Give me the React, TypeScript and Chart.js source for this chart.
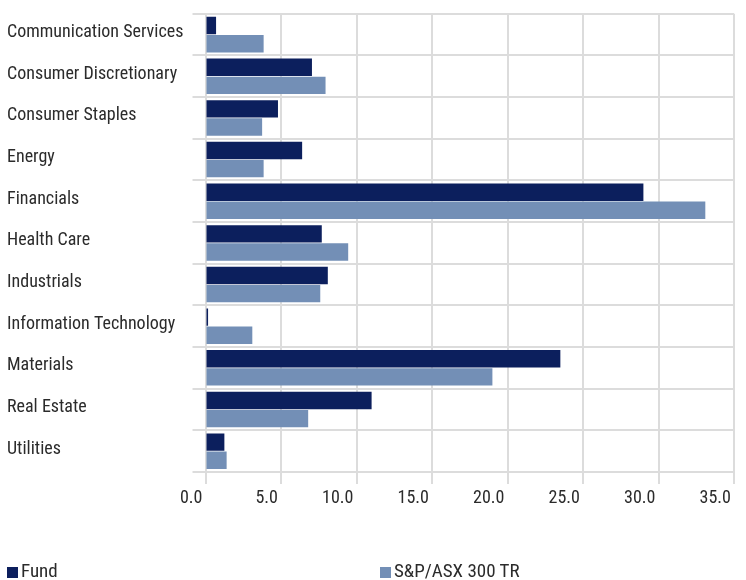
import React, { useEffect, useRef } from "react";
import { Chart, registerables } from "chart.js";

Chart.register(...registerables);

const categories = [
  "Communication Services",
  "Consumer Discretionary",
  "Consumer Staples",
  "Energy",
  "Financials",
  "Health Care",
  "Industrials",
  "Information Technology",
  "Materials",
  "Real Estate",
  "Utilities",
];
const fundValues = [0.7, 7.05, 4.8, 6.4, 29.0, 7.7, 8.1, 0.17, 23.5, 11.0, 1.25];
const indexValues = [3.85, 7.95, 3.75, 3.85, 33.1, 9.45, 7.6, 3.1, 19.0, 6.8, 1.4];
const seriesNames = ["Fund", "S&P/ASX 300 TR"];
const xTicks = [0, 5, 10, 15, 20, 25, 30, 35];

const FONT = "'Roboto Condensed', 'Liberation Sans', sans-serif";
const FUND_COLOR = "#0c1f5d";
const INDEX_COLOR = "#738fb6";
const GRID = "#dcdcdc";
const TEXT = "#2b2b2b";

export default function App() {
  const ref = useRef<HTMLCanvasElement | null>(null);

  useEffect(() => {
    if (!ref.current) return;
    const chart = new Chart(ref.current, {
      type: "bar",
      data: {
        labels: categories,
        datasets: [
          {
            label: seriesNames[0],
            data: fundValues,
            backgroundColor: FUND_COLOR,
            barPercentage: 0.96,
            categoryPercentage: 0.87,
          },
          {
            label: seriesNames[1],
            data: indexValues,
            backgroundColor: INDEX_COLOR,
            barPercentage: 0.96,
            categoryPercentage: 0.87,
          },
        ],
      },
      options: {
        indexAxis: "y",
        animation: false,
        responsive: false,
        maintainAspectRatio: false,
        layout: { padding: { left: 7, right: 12, top: 4, bottom: 58 } },
        plugins: {
          legend: { display: false },
          tooltip: { enabled: false },
        },
        scales: {
          x: {
            min: 0,
            max: 35,
            afterBuildTicks: (scale: any) => {
              scale.ticks = xTicks.map((v) => ({ value: v }));
            },
            afterFit: (scale: any) => {
              scale.height = 50;
            },
            grid: { color: GRID, lineWidth: 2, tickLength: 12, drawTicks: true },
            border: { color: GRID, width: 2 },
            ticks: {
              color: TEXT,
              font: { family: FONT, size: 18 },
              align: "end",
              labelOffset: -3,
              padding: 4,
              maxRotation: 0,
              callback: (v: any) => Number(v).toFixed(1),
            },
          },
          y: {
            afterFit: (scale: any) => {
              scale.width = 198.5;
            },
            grid: { color: GRID, lineWidth: 2, tickLength: 13, offset: true },
            border: { color: GRID, width: 2 },
            ticks: {
              color: TEXT,
              font: { family: FONT, size: 18 },
              crossAlign: "far",
              autoSkip: false,
              labelOffset: -2,
            },
          },
        },
      },
    });
    return () => chart.destroy();
  }, []);

  const legendItem = (name: string, color: string) => (
    <div style={{ display: "flex", alignItems: "center", paddingLeft: 7 }}>
      <span
        style={{
          display: "inline-block",
          width: 11,
          height: 11,
          background: color,
          marginRight: 3,
          marginTop: 2,
        }}
      />
      <span style={{ fontFamily: FONT, fontSize: 19, color: TEXT, lineHeight: "20px" }}>{name}</span>
    </div>
  );

  return (
    <div style={{ position: "absolute", left: 0, top: 0, width: 746, height: 580, background: "#fff" }}>
      <canvas ref={ref} width={746} height={580} style={{ display: "block" }} />
      <div
        style={{
          position: "absolute",
          left: 0,
          top: 561,
          width: 746,
          display: "grid",
          gridTemplateColumns: "373px 373px",
        }}
      >
        {legendItem(seriesNames[0], FUND_COLOR)}
        {legendItem(seriesNames[1], INDEX_COLOR)}
      </div>
    </div>
  );
}
